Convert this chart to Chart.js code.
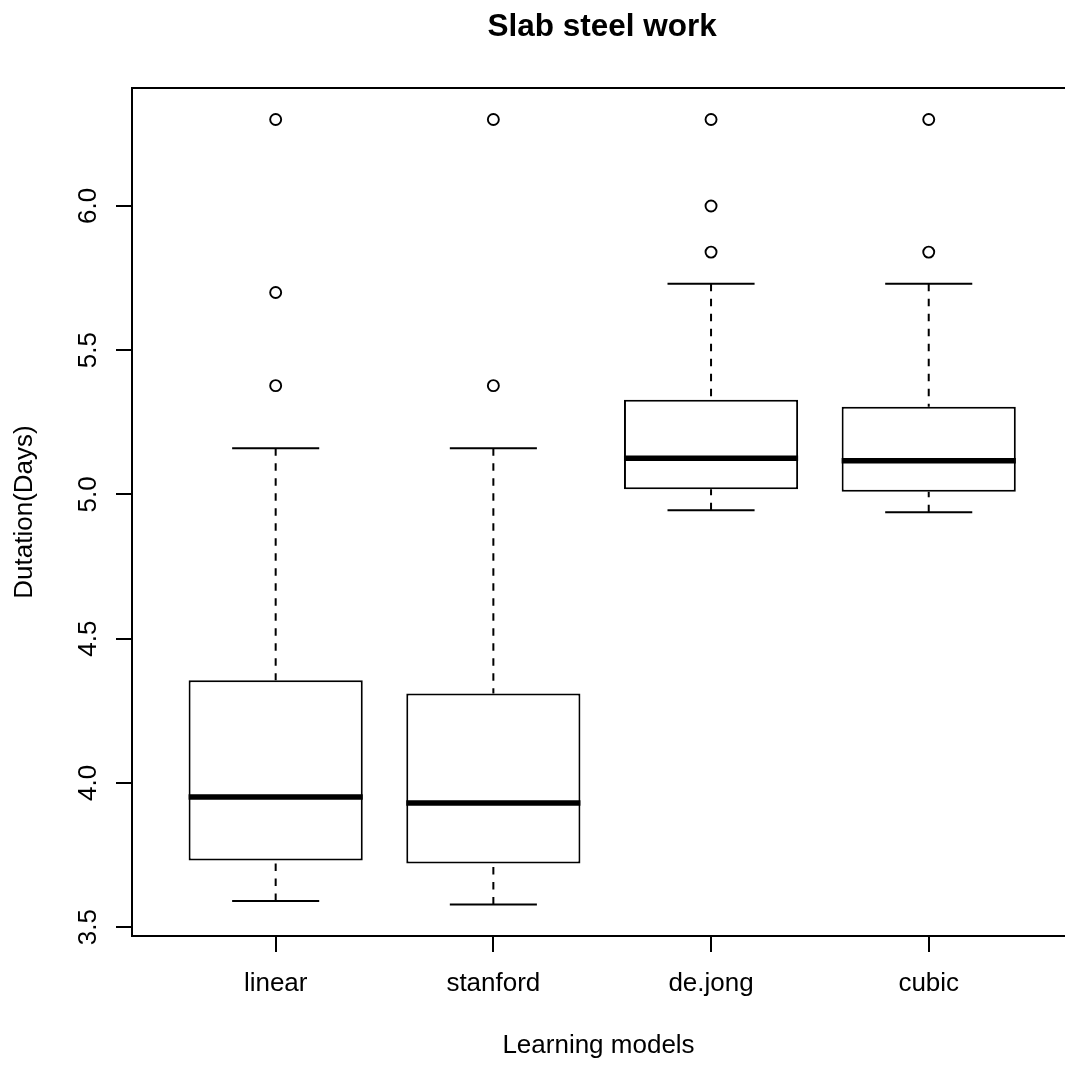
<!DOCTYPE html>
<html>
<head>
<meta charset="utf-8">
<title>Slab steel work</title>
<script src="https://cdn.jsdelivr.net/npm/chart.js@4.4.1/dist/chart.umd.min.js"></script>
<style>
  html, body { margin: 0; padding: 0; background: #fff; overflow: hidden; }
  canvas { display: block; }
</style>
</head>
<body>
<canvas id="chart" width="1065" height="1066"></canvas>
<script>
// Box-plot statistics per learning model (duration in days)
const categories   = ['linear', 'stanford', 'de.jong', 'cubic'];
const lowerWhisker = [3.590, 3.578, 4.945, 4.938];
const q1           = [3.731, 3.720, 5.018, 5.009];
const median       = [3.951, 3.930, 5.125, 5.117];
const q3           = [4.356, 4.310, 5.328, 5.304];
const upperWhisker = [5.160, 5.160, 5.730, 5.730];
const outliers     = [
  [5.377, 5.700, 6.300],
  [5.377, 6.300],
  [5.840, 6.000, 6.300],
  [5.840, 6.300]
];

// Axis ticks and limits
const yTicks      = [3.5, 4.0, 4.5, 5.0, 5.5, 6.0];
const yTickLabels = ['3.5', '4.0', '4.5', '5.0', '5.5', '6.0'];
const yMin = 3.469, yMax = 6.409;
// Plot region spans 0.34 .. 4.66 on the x axis; the page cuts it at 4.626
const xMin = 0.34, xFrameMax = 4.66, xVisibleMax = 4.626;

const TITLE = 'Slab steel work';

// Box width (in category units) and whisker staple half-width
const BOX_WIDTH = 0.8;
const STAPLE_HALF = BOX_WIDTH / 4;

const FONT = '"Liberation Sans", Arial, Helvetica, sans-serif';
const INK = '#000';

const pos = categories.map((_, i) => i + 1);

const boxData = pos.map((x, i) => ({ x, y: [q1[i], q3[i]] }));
const medianData = pos.flatMap((x, i) => [
  { x: x - BOX_WIDTH / 2, y: median[i] },
  { x: x + BOX_WIDTH / 2, y: median[i] },
  { x, y: null }
]);
// Whiskers run from the staple back to the box edge
const whiskerData = pos.flatMap((x, i) => [
  { x, y: upperWhisker[i] }, { x, y: q3[i] }, { x, y: null },
  { x, y: lowerWhisker[i] }, { x, y: q1[i] }, { x, y: null }
]);
const stapleData = pos.flatMap((x, i) => [
  { x: x - STAPLE_HALF, y: upperWhisker[i] }, { x: x + STAPLE_HALF, y: upperWhisker[i] }, { x, y: null },
  { x: x - STAPLE_HALF, y: lowerWhisker[i] }, { x: x + STAPLE_HALF, y: lowerWhisker[i] }, { x, y: null }
]);
const outlierData = outliers.flatMap((vals, i) => vals.map(v => ({ x: pos[i], y: v })));

// Plot frame, main title centred over the plot region, and y tick labels parallel to the axis
const frameAndLabels = {
  id: 'frameAndLabels',
  afterDraw(chart) {
    const { ctx, chartArea: a, scales: { x, y } } = chart;
    const frameRight = x.getPixelForValue(xFrameMax);
    ctx.save();
    ctx.strokeStyle = INK;
    ctx.lineWidth = 2;
    ctx.strokeRect(a.left, a.top, frameRight - a.left, a.bottom - a.top);

    ctx.fillStyle = INK;
    ctx.textAlign = 'center';
    ctx.textBaseline = 'alphabetic';
    ctx.font = 'bold 31.5px ' + FONT;
    ctx.fillText(TITLE, x.getPixelForValue((xMin + xFrameMax) / 2), a.top - 52);

    ctx.font = '26px ' + FONT;
    y.ticks.forEach((t, i) => {
      ctx.save();
      ctx.translate(a.left - 36, y.getPixelForValue(t.value));
      ctx.rotate(-Math.PI / 2);
      ctx.fillText(yTickLabels[i], 0, 0);
      ctx.restore();
    });
    ctx.restore();
  }
};

const lineBase = {
  type: 'line',
  borderColor: INK,
  borderWidth: 2,
  borderCapStyle: 'butt',
  pointRadius: 0,
  pointHoverRadius: 0,
  spanGaps: false,
  fill: false,
  tension: 0
};

const axisGrid = {
  display: true,
  offset: false,
  drawOnChartArea: false,
  drawTicks: true,
  tickLength: 16,
  color: INK,
  lineWidth: 2
};
const axisBorder = { display: true, color: INK, width: 2 };

new Chart(document.getElementById('chart'), {
  type: 'bar',
  data: {
    datasets: [
      { ...lineBase, label: 'median', data: medianData, borderWidth: 5.5, order: 0 },
      {
        type: 'scatter', label: 'outliers', data: outlierData,
        pointStyle: 'circle', pointRadius: 5.5, pointBorderWidth: 1.9,
        pointBorderColor: INK, pointBackgroundColor: 'rgba(0,0,0,0)',
        borderColor: INK, backgroundColor: 'rgba(0,0,0,0)', order: 0
      },
      {
        type: 'bar', label: 'IQR', data: boxData,
        backgroundColor: '#fff', borderColor: INK, borderWidth: 2, borderSkipped: false,
        barPercentage: BOX_WIDTH, categoryPercentage: 1, order: 1
      },
      { ...lineBase, label: 'staples', data: stapleData, order: 2 },
      { ...lineBase, label: 'whiskers', data: whiskerData, borderDash: [7.5, 7.5], order: 3 }
    ]
  },
  options: {
    responsive: false,
    animation: false,
    devicePixelRatio: 1,
    events: [],
    layout: { autoPadding: false, padding: { left: 0, right: 0, top: 88, bottom: 0 } },
    plugins: {
      legend: { display: false },
      tooltip: { enabled: false },
      title: { display: false }
    },
    scales: {
      x: {
        type: 'linear',
        offset: false,
        min: xMin,
        max: xVisibleMax,
        afterBuildTicks: s => { s.ticks = pos.map(v => ({ value: v })); },
        afterFit: s => { s.height = 130; },
        ticks: {
          callback: (v, i) => categories[i],
          color: INK,
          font: { family: FONT, size: 26 },
          padding: 16.4,
          autoSkip: false,
          minRotation: 0,
          maxRotation: 0
        },
        grid: axisGrid,
        border: axisBorder,
        title: {
          display: true,
          text: 'Learning models',
          color: INK,
          font: { family: FONT, size: 26 },
          padding: { top: 0, bottom: 4.4 }
        }
      },
      y: {
        type: 'linear',
        min: yMin,
        max: yMax,
        afterBuildTicks: s => { s.ticks = yTicks.map(v => ({ value: v })); },
        afterFit: s => { s.width = 132; },
        ticks: { display: false },
        grid: axisGrid,
        border: axisBorder,
        title: {
          display: true,
          text: 'Dutation(Days)',
          color: INK,
          font: { family: FONT, size: 26 },
          padding: { top: 9.5, bottom: 0 }
        }
      }
    }
  },
  plugins: [frameAndLabels]
});
</script>
</body>
</html>
